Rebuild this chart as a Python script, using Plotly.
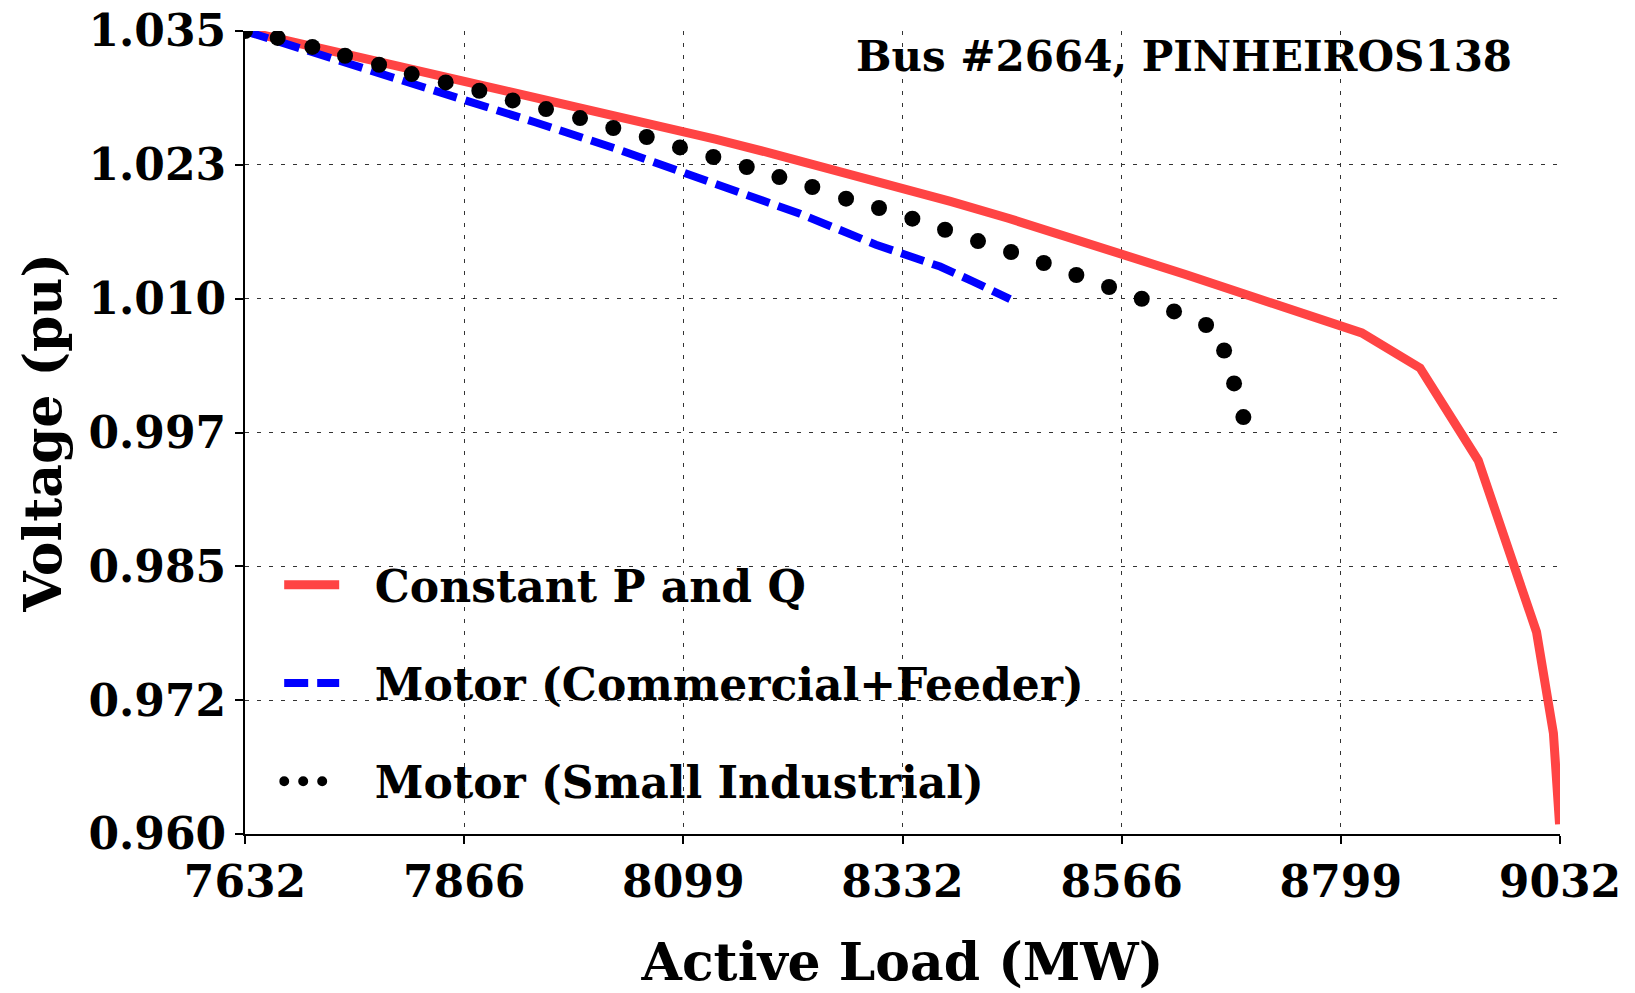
import plotly.graph_objects as go

# x / y ranges and tick labels as printed on the chart
x_ticks = [7632, 7865.33, 8098.67, 8332, 8565.33, 8798.67, 9032]
x_labels = ['7632', '7866', '8099', '8332', '8566', '8799', '9032']
y_ticks = [0.960, 0.9725, 0.985, 0.9975, 1.010, 1.0225, 1.035]
y_labels = ['0.960', '0.972', '0.985', '0.997', '1.010', '1.023', '1.035']

# Constant P and Q
p_const = [7632.0, 7694.6, 7757.2, 7819.7, 7882.3, 7944.9, 8007.5, 8070.1, 8132.6,
           8195.2, 8257.8, 8320.4, 8383.0, 8445.5, 8508.1, 8570.7, 8633.3, 8695.9,
           8758.4, 8821.0, 8883.0, 8945.0, 9007.0, 9025.0, 9031.5]
v_const = [1.03500, 1.03376, 1.03252, 1.03128, 1.03005, 1.02882, 1.02758, 1.02629,
           1.02490, 1.02351, 1.02206, 1.02057, 1.01909, 1.01749, 1.01581, 1.01406,
           1.01226, 1.01043, 1.00860, 1.00680, 1.00353, 0.99488, 0.97887, 0.96940,
           0.96091]

# Motor (Commercial+Feeder)
p_comm = [7632.0, 7700.0, 7770.0, 7850.3, 7940.0, 8027.0, 8120.0, 8222.9, 8303.8,
          8372.0, 8407.4, 8446.5]
v_comm = [1.03500, 1.03315, 1.03124, 1.02905, 1.02650, 1.02401, 1.02112, 1.01793,
          1.01504, 1.01300, 1.01160, 1.00995]

# Motor (Small Industrial)
p_ind = [7632.0, 7666.8, 7703.7, 7738.5, 7774.7, 7809.5, 7845.7, 7881.5, 7917.0,
         7952.5, 7988.7, 8024.1, 8059.7, 8095.1, 8130.6, 8166.2, 8200.9, 8236.0,
         8271.9, 8307.0, 8342.5, 8377.3, 8412.4, 8447.6, 8482.4, 8517.1, 8551.9,
         8586.7, 8621.1, 8655.2, 8674.4, 8685.0, 8694.9]
v_ind = [1.03500, 1.03435, 1.03351, 1.03269, 1.03185, 1.03098, 1.03020, 1.02942,
         1.02852, 1.02771, 1.02687, 1.02594, 1.02510, 1.02413, 1.02323, 1.02230,
         1.02136, 1.02043, 1.01934, 1.01847, 1.01747, 1.01644, 1.01538, 1.01436,
         1.01333, 1.01221, 1.01109, 1.00999, 1.00881, 1.00754, 1.00516, 1.00208,
         0.99894]

FONT = 'DejaVu Serif'
PAD = '\u00a0\u00a0'  # a little room between legend sample and text

fig = go.Figure()

fig.add_trace(go.Scatter(
    x=p_const, y=v_const, mode='lines', name=PAD + 'Constant P and Q',
    line=dict(color='#ff4444', width=9), legendgroup='a'
))
fig.add_trace(go.Scatter(
    x=p_comm, y=v_comm, mode='lines', name=PAD + 'Motor (Commercial+Feeder)',
    line=dict(color='#0000ff', width=8, dash='24px,9px'), legendgroup='b'
))
fig.add_trace(go.Scatter(
    x=p_ind, y=v_ind, mode='markers', showlegend=False,
    marker=dict(color='black', size=16, line=dict(width=0))
))
# legend entry for the dotted series (round dots set in post script)
fig.add_trace(go.Scatter(
    x=[None], y=[None], mode='lines', name=PAD + 'Motor (Small Industrial)',
    line=dict(color='black', width=12, dash='0px,19px'), legendgroup='c'
))

axis_common = dict(
    showline=True, linecolor='black', linewidth=2,
    ticks='outside', ticklen=8, tickwidth=1.5, tickcolor='black',
    showgrid=True, gridcolor='#333333', gridwidth=1, griddash='4px,8px',
    zeroline=False, mirror=False, automargin=False,
    tickfont=dict(family=FONT, size=44, color='black', weight='bold'),
)

fig.update_xaxes(
    range=[7632, 9032], tickvals=x_ticks, ticktext=x_labels,
    title=dict(text='Active Load (MW)', standoff=38,
               font=dict(family=FONT, size=52, color='black', weight='bold')),
    **axis_common
)
fig.update_yaxes(
    range=[0.960, 1.035], tickvals=y_ticks, ticktext=y_labels,
    title=dict(text='Voltage (pu)', standoff=10,
               font=dict(family=FONT, size=52, color='black', weight='bold')),
    **axis_common
)

fig.add_annotation(
    text='Bus #2664, PINHEIROS138', xref='paper', yref='paper',
    x=0.965, y=0.968, xanchor='right', yanchor='middle', showarrow=False,
    font=dict(family=FONT, size=42, color='black', weight='bold')
)

fig.update_layout(
    width=1635, height=993,
    margin=dict(l=245, r=75, t=31, b=159),
    plot_bgcolor='white', paper_bgcolor='white',
    font=dict(family=FONT, color='black'),
    legend=dict(
        x=0.026, y=0.354, xanchor='left', yanchor='top',
        bgcolor='rgba(0,0,0,0)', borderwidth=0,
        traceorder='grouped', tracegroupgap=38, itemwidth=55,
        font=dict(family=FONT, size=44, color='black', weight='bold'),
    ),
)

page_fix = """
document.body.style.margin = '0';
var gd = document.getElementById('{plot_id}');
function roundDots() {
  var items = gd.querySelectorAll('.legend .traces');
  if (items.length > 2) {
    items[2].querySelectorAll('path.js-line').forEach(function (p) {
      p.style.strokeLinecap = 'round';
    });
  }
}
roundDots();
gd.on('plotly_afterplot', roundDots);
"""

fig.write_html("out.html", post_script=page_fix, config={'displayModeBar': False})
